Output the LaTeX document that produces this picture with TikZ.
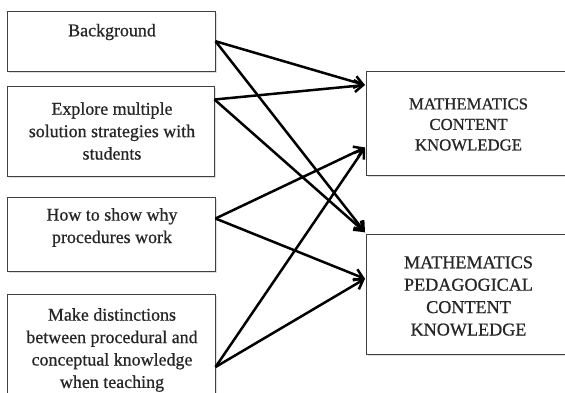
\documentclass[tikz,border=0pt]{standalone}
\usepackage{fontspec}
\setmainfont{Liberation Serif}[FakeBold=0.7]
\usetikzlibrary{arrows.meta,calc,shadows}
\tikzset{
  boxshape/.style={draw=black!75, line width=1bp, fill=white, inner sep=0pt,
    drop shadow={shadow xshift=1.5bp, shadow yshift=-1.8bp, opacity=0.25}},
  lefttext/.style={align=center, inner sep=0pt, text=black!85,
    font=\fontsize{18}{22.5}\selectfont},
  righttext/.style={align=center, inner sep=0pt, text=black!85},
  link/.style={line width=2.5bp, black, -{Straight Barb[length=8.5bp, width=12bp, line width=2.5bp]}}
}
\begin{document}
\begin{tikzpicture}[x=1bp,y=-1bp]
\useasboundingbox (0,0) rectangle (565,392);
\clip (0,0) rectangle (565,392);
\fill[white] (0,0) rectangle (565,392);
% left boxes
\node[boxshape, minimum width=207bp, minimum height=59.5bp] (b1) at (111.5,41.25) {};
\node[boxshape, minimum width=206bp, minimum height=90bp] (b2) at (111,131) {};
\node[boxshape, minimum width=207bp, minimum height=74bp] (b3) at (111.5,234) {};
\node[boxshape, minimum width=207bp, minimum height=140bp] (b4) at (111.5,364) {};
% right boxes
\node[boxshape, minimum width=260bp, minimum height=104.5bp] (r1) at (496.5,123.25) {};
\node[boxshape, minimum width=260bp, minimum height=119.5bp] (r2) at (496.5,294.5) {};
% texts
\node[lefttext] (t1) at (112,32) {Background};
\node[lefttext] (t2) at (112,131) {Explore multiple\\solution strategies with\\students};
\node[lefttext] (t3) at (112,227.5) {How to show why\\procedures work};
\node[lefttext] (t4) at (112,350) {Make distinctions\\between procedural and\\conceptual knowledge\\when teaching};
\node[righttext, font=\fontsize{16.8}{20.6}\selectfont] (t5) at (468.5,124.5) {MATHEMATICS\\CONTENT\\KNOWLEDGE};
\node[righttext, font=\fontsize{18.2}{22.5}\selectfont] (t6) at (468.5,296) {MATHEMATICS\\PEDAGOGICAL\\CONTENT\\KNOWLEDGE};
% anchor points
\coordinate (s1) at (b1.east);
\coordinate (s2) at ($(b2.north east)+(0,14)$);
\coordinate (s3) at ($(b3.north east)+(0,22)$);
\coordinate (s4) at ($(b4.north east)+(0,73.5)$);
\coordinate (e1a) at ($(r1.north west)+(-1,14.5)$);
\coordinate (e1b) at ($(r1.north west)+(-1,77)$);
\coordinate (e2a) at ($(r2.north west)+(-1,-2)$);
\coordinate (e2b) at ($(r2.north west)+(-1,44.5)$);
% connectors
\draw[link] (s1) -- (e1a);
\draw[link] (s1) -- (e2a);
\draw[link] (s2) -- (e1a);
\draw[link] (s2) -- (e2a);
\draw[link] (s3) -- (e1b);
\draw[link] (s3) -- (e2b);
\draw[link] (s4) -- (e1b);
\draw[link] (s4) -- (e2b);
\end{tikzpicture}
\end{document}
